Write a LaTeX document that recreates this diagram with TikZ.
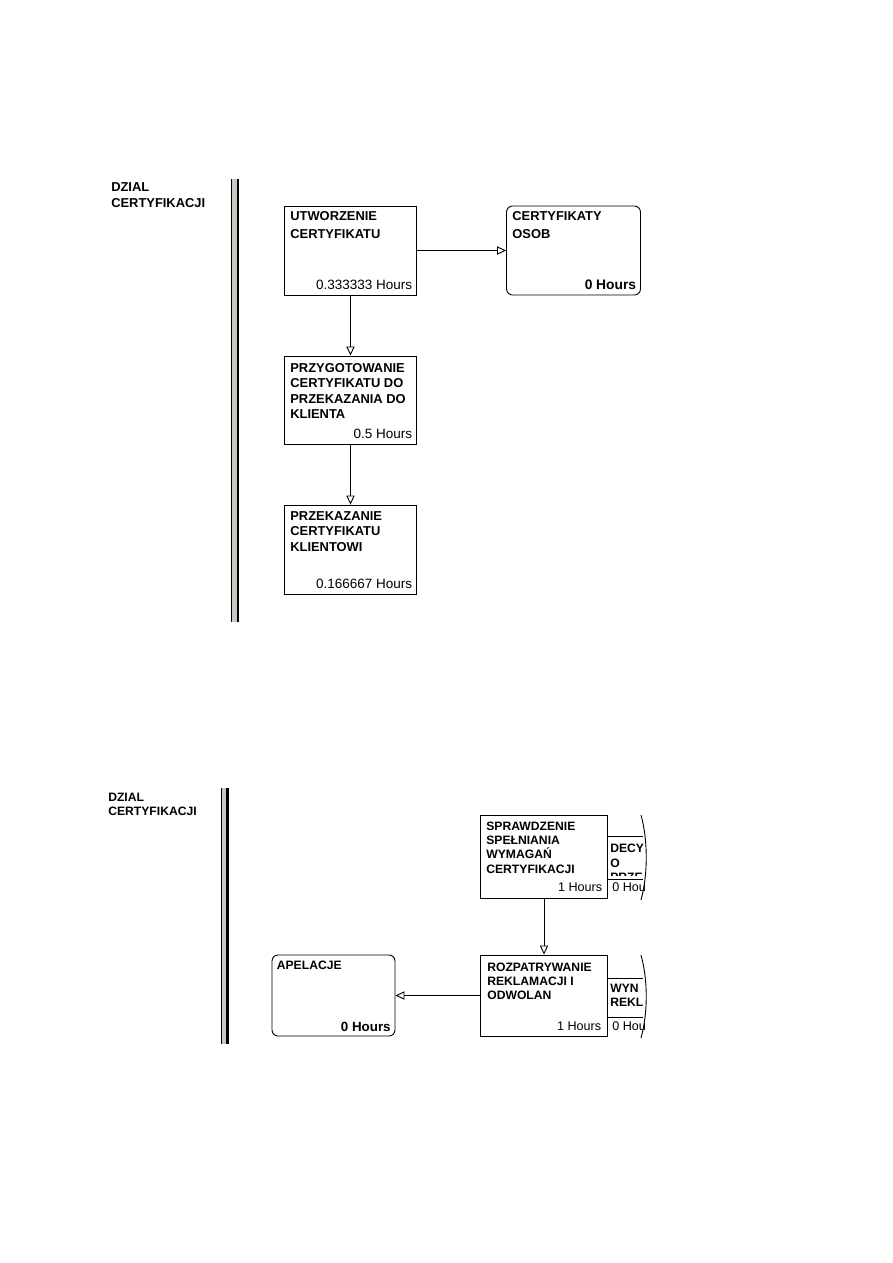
\documentclass[tikz,border=0pt]{standalone}
\usepackage{fontspec}
\setmainfont{Liberation Sans}
\usetikzlibrary{arrows.meta}
\definecolor{laneGray}{RGB}{200,200,192}
\begin{document}
\begin{tikzpicture}[x=0.6667pt,y=-0.6667pt]
\tikzset{
    procBox/.style={rectangle,draw=black,line width=0.6pt,minimum width=88pt,minimum height=59.3pt,inner sep=0pt},
    procEnd/.style={procBox,rounded corners=4pt},
    procTitle/.style={inner sep=0pt,anchor=north west,align=left,font=\fontsize{8.6}{10.3}\selectfont\bfseries},
    procTime/.style={inner sep=0pt,anchor=base east,font=\fontsize{9}{10}\selectfont},
    procTimeEnd/.style={procTime,font=\fontsize{9.2}{10}\selectfont\bfseries},
    smTitle/.style={procTitle,font=\fontsize{8.1}{9.5}\selectfont\bfseries},
    smTime/.style={procTime,font=\fontsize{8.4}{10}\selectfont},
    smTimeEnd/.style={procTime,font=\fontsize{8.9}{10}\selectfont\bfseries},
    laneLabel/.style={inner sep=0pt,anchor=north west,align=left,font=\fontsize{8.6}{10.7}\selectfont\bfseries},
    offPage/.style={draw=black,line width=0.6pt},
    flowArrow/.style={-{Triangle[open,length=6pt,width=5.5pt]},line width=0.6pt},
}
\useasboundingbox[fill=white] (0,0) rectangle (893,1263);

\node[laneLabel] (lane1) at (111,182.5) {DZIAL\\CERTYFIKACJI};
\fill[black] (230.5,179) rectangle (231.8,622);
\fill[laneGray] (231.8,179) rectangle (236.5,622);
\fill[black] (236.5,179) rectangle (239.3,622);

\node[procBox] (utw) at (350.5,250.5) {};
\node[procEnd,minimum width=89.3pt] (cert) at (573.5,250.5) {};
\node[procBox,minimum height=58.7pt] (przyg) at (350.5,400) {};
\node[procBox] (przek) at (350.5,549.5) {};

\node[procTitle] (utwT) at ([shift={(6,6)}]utw.north west) {UTWORZENIE\\[1.4pt]CERTYFIKATU};
\node[procTime] (utwH) at ([shift={(-4.5,-5.5)}]utw.south east) {0.333333 Hours};
\node[procTitle] (certT) at ([shift={(6,6)}]cert.north west) {CERTYFIKATY\\[1.4pt]OSOB};
\node[procTimeEnd] (certH) at ([shift={(-4.5,-5.5)}]cert.south east) {0 Hours};
\node[procTitle] (przygT) at ([shift={(6,7.5)}]przyg.north west) {PRZYGOTOWANIE\\CERTYFIKATU DO\\PRZEKAZANIA DO\\KLIENTA};
\node[procTime] (przygH) at ([shift={(-4.5,-5.5)}]przyg.south east) {0.5 Hours};
\node[procTitle] (przekT) at ([shift={(6,6.5)}]przek.north west) {PRZEKAZANIE\\CERTYFIKATU\\KLIENTOWI};
\node[procTime] (przekH) at ([shift={(-4.5,-5.5)}]przek.south east) {0.166667 Hours};

\draw[flowArrow] (utw) -- (cert);
\draw[flowArrow] (utw) -- (przyg);
\draw[flowArrow] (przyg) -- (przek);

\node[laneLabel,font=\fontsize{8.1}{9.5}\selectfont\bfseries] (lane2) at (108,793) {DZIAL\\CERTYFIKACJI};
\fill[black] (220.5,788) rectangle (221.8,1043.5);
\fill[laneGray] (221.8,788) rectangle (226.3,1043.5);
\fill[black] (226.3,788) rectangle (229,1043.5);

\node[procBox,minimum width=84.7pt,minimum height=55.3pt] (spr) at (544,856.5) {};
\node[procBox,minimum width=84.7pt,minimum height=54pt] (rozp) at (544,995.5) {};
\node[procEnd,minimum width=82pt,minimum height=54pt] (apel) at (333.5,995.5) {};

\node[smTitle] (sprT) at ([shift={(6,7)}]spr.north west) {SPRAWDZENIE\\SPEŁNIANIA\\WYMAGAŃ\\CERTYFIKACJI};
\node[smTime] (sprH) at ([shift={(-5.5,-6.5)}]spr.south east) {1 Hours};
\node[smTitle] (rozpT) at ([shift={(7,8)}]rozp.north west) {ROZPATRYWANIE\\REKLAMACJI I\\ODWOLAN};
\node[smTime] (rozpH) at ([shift={(-6.5,-6)}]rozp.south east) {1 Hours};
\node[smTitle] (apelT) at ([shift={(5,6)}]apel.north west) {APELACJE};
\node[smTimeEnd] (apelH) at ([shift={(-4.5,-4.5)}]apel.south east) {0 Hours};

\begin{scope}
\clip (606,800) rectangle (648.5,1050);
\draw[offPage] (607.3,836) -- (643,836) (607.3,879) -- (643,879);
\draw[offPage] (641,815) .. controls (648,840) and (648,875) .. (641,900);
\draw[offPage] (607.3,978) -- (643,978) (607.3,1017) -- (643,1017);
\draw[offPage] (641,955) .. controls (648,980) and (648,1013) .. (641,1038);
\node[smTime,anchor=base west] (decH) at (612,891.5) {0 Hou};
\node[smTime,anchor=base west] (wynH) at (612,1030) {0 Hou};
\begin{scope}
\clip (607,836) rectangle (648.5,875.5);
\node[smTitle] (decT) at (610,844) {DECY\\O\\PRZE};
\end{scope}
\begin{scope}
\clip (607,978) rectangle (648.5,1016);
\node[smTitle] (wynT) at (610,983.5) {WYN\\REKL};
\end{scope}
\end{scope}

\draw[flowArrow] (spr) -- (rozp);
\draw[flowArrow] (rozp) -- (apel);
\end{tikzpicture}
\end{document}
